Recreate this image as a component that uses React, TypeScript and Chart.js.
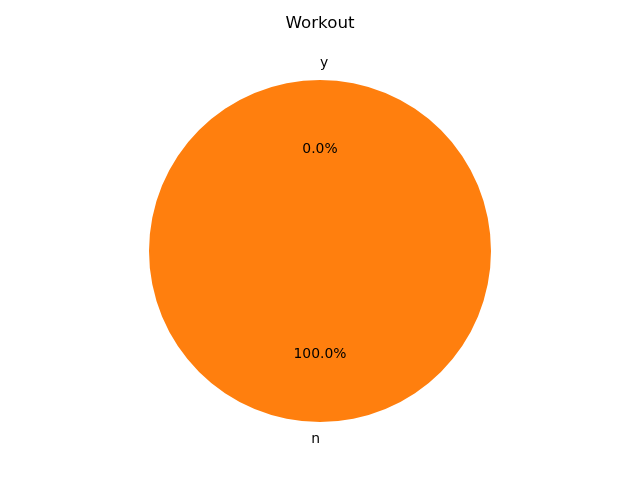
import React, { useEffect, useRef } from "react";
import { Chart, registerables } from "chart.js";

Chart.register(...registerables);

const title = "Workout";
const categories = ["y", "n"];
const values = [0, 100];
const colors = ["#1f77b4", "#ff7f0e"];

const FONT = "DejaVu Sans, sans-serif";

const labelPlugin = {
  id: "mplLabels",
  afterDraw(chart: any) {
    const ctx = chart.ctx;
    const meta = chart.getDatasetMeta(0);
    const total = values.reduce((a, b) => a + b, 0);
    ctx.save();
    ctx.fillStyle = "#000";
    ctx.font = `16.7px ${FONT}`;
    ctx.textAlign = "center";
    ctx.textBaseline = "middle";
    ctx.fillText(title, 320, 23.5);
    meta.data.forEach((arc: any, i: number) => {
      const mid = (arc.startAngle + arc.endAngle) / 2;
      const r = arc.outerRadius;
      const cx = arc.x;
      const cy = arc.y;
      const c = Math.cos(mid);
      const s = Math.sin(mid);
      ctx.font = `13.9px ${FONT}`;
      // outer label (matplotlib labeldistance 1.1)
      const lx = cx + c * r * 1.1;
      const ly = cy + s * r * 1.1;
      // matplotlib: ha = left if x>0 else right (x in math coords)
      ctx.textAlign = s < 0 ? "left" : "right";
      ctx.textBaseline = "middle";
      ctx.fillText(categories[i], lx, ly);
      // pct label (pctdistance 0.6)
      const px = cx + c * r * 0.6;
      const py = cy + s * r * 0.6 + 1;
      ctx.textAlign = "center";
      const pct = total ? (values[i] / total) * 100 : 0;
      ctx.fillText(pct.toFixed(1) + "%", px, py);
    });
    ctx.restore();
  },
};

export default function App() {
  const ref = useRef<HTMLCanvasElement>(null);
  useEffect(() => {
    document.body.style.margin = "0";
    const chart = new Chart(ref.current!, {
      type: "pie",
      data: {
        labels: categories,
        datasets: [
          {
            data: values,
            backgroundColor: colors,
            borderWidth: 0,
          },
        ],
      },
      options: {
        responsive: false,
        animation: false,
        events: [],
        layout: { padding: { top: 80, bottom: 58, left: 149, right: 149 } },
        plugins: {
          legend: { display: false },
          tooltip: { enabled: false },
          title: { display: false },
        },
      },
      plugins: [labelPlugin],
    });
    return () => chart.destroy();
  }, []);
  return (
    <div style={{ position: "fixed", left: 0, top: 0, width: 640, height: 480, background: "#fff" }}>
      <canvas ref={ref} width={640} height={480} style={{ width: 640, height: 480 }} />
    </div>
  );
}
